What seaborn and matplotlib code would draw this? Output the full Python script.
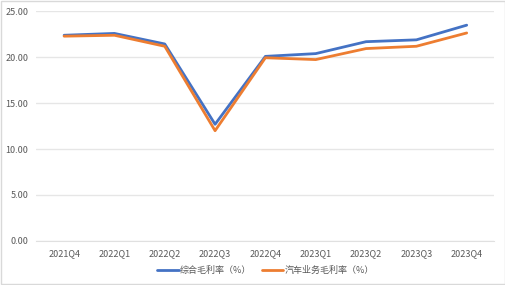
import numpy as np
import pandas as pd
import seaborn as sns
import matplotlib.pyplot as plt

# Data
quarters = ["2021Q4", "2022Q1", "2022Q2", "2022Q3", "2022Q4",
            "2023Q1", "2023Q2", "2023Q3", "2023Q4"]
overall_margin = [22.4, 22.6, 21.45, 12.7, 20.1, 20.4, 21.7, 21.9, 23.5]
auto_margin = [22.3, 22.4, 21.2, 12.0, 19.95, 19.75, 20.95, 21.2, 22.65]
series_names = ["综合毛利率（%）", "汽车业务毛利率（%）"]
y_ticks = [0, 5, 10, 15, 20, 25]

df = pd.DataFrame({
    "quarter": quarters * 2,
    "value": overall_margin + auto_margin,
    "series": [series_names[0]] * len(quarters) + [series_names[1]] * len(quarters),
})
df["x"] = df["quarter"].map({q: i for i, q in enumerate(quarters)})

sns.set_style("white")
plt.rcParams["font.family"] = ["Noto Sans CJK SC", "DejaVu Sans"]

fig = plt.figure(figsize=(5.06, 2.85), dpi=100)
ax = fig.add_axes([0.072, 0.155, 0.905, 0.805])

sns.lineplot(data=df, x="x", y="value", hue="series",
             palette=["#4472C4", "#ED7D31"], linewidth=2.0, ax=ax, legend=True)

ax.set_xlim(-0.55, len(quarters) - 0.45)
ax.set_ylim(0, 25)
ax.set_yticks(y_ticks)
ax.set_yticklabels([f"{v:.2f}" for v in y_ticks])
ax.set_xticks(range(len(quarters)))
ax.set_xticklabels(quarters)
ax.tick_params(axis="both", labelsize=6.5, colors="#595959", length=0, pad=6)
ax.yaxis.grid(True, color="#e6e6e6", linewidth=1)
for s in ax.spines.values():
    s.set_visible(False)
ax.spines["bottom"].set_visible(True)
ax.spines["bottom"].set_color("#e0e0e0")
ax.set_xlabel("")
ax.set_ylabel("")

ax.legend(loc="upper center", bbox_to_anchor=(0.5, -0.075), ncol=2,
          frameon=False, fontsize=6.5, handlelength=2.4, handletextpad=0.1,
          columnspacing=1.2, labelcolor="#595959")

fig.patches.append(plt.Rectangle((0.002, 0.003), 0.996, 0.994, transform=fig.transFigure,
                                 fill=False, edgecolor="#d9d9d9", linewidth=1))

fig.savefig("out.png", dpi=100)
